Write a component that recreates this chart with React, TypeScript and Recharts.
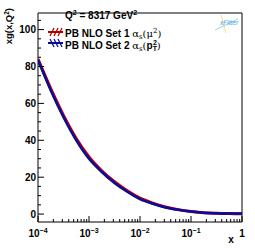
import { LineChart, Line, XAxis, YAxis, ReferenceArea } from 'recharts';

const xValues = [1e-4, 1.78e-4, 3.16e-4, 5.62e-4, 1e-3, 1.78e-3, 3.16e-3, 5.62e-3, 1e-2, 1.78e-2, 3.16e-2, 5.62e-2, 1e-1, 0.178, 0.316, 0.562, 1];
const set1 = [84, 68, 53.5, 41, 31, 23.5, 17.5, 12.6, 8.6, 5.9, 3.8, 2.4, 1.4, 0.75, 0.4, 0.25, 0.2];
const set2 = [83.5, 67, 52.5, 40, 30, 22.8, 16.9, 12.1, 8.1, 5.6, 3.6, 2.3, 1.35, 0.75, 0.45, 0.3, 0.25];

const xMajor = [1e-4, 1e-3, 1e-2, 1e-1, 1];
const xMajorLabels = ['-4', '-3', '-2', '-1', ''];
const xMinorMult = [2, 3, 4, 5, 6, 7, 8, 9];
const yTicks = [0, 5, 10, 15, 20, 25, 30, 35, 40, 45, 50, 55, 60, 65, 70, 75, 80, 85, 90, 95, 100, 105];
const yLabelled = [0, 20, 40, 60, 80, 100];

const data = xValues.map((x, i) => ({ x, set1: set1[i], set2: set2[i] }));
const xTicks = [...xMajor, ...xMajor.slice(0, 4).flatMap((d) => xMinorMult.map((m) => m * d))];

const RED = '#b00000';
const BLUE = '#0a0a9c';
const FONT = '"Liberation Sans", Arial, sans-serif';

function XTick({ x, y, payload }: any) {
  const idx = xMajor.indexOf(payload.value);
  const major = idx >= 0;
  return (
    <g>
      <line x1={x} x2={x} y1={y} y2={y - (major ? 6 : 3)} stroke="#000" />
      {major && (
        <text x={x} y={y + 15} textAnchor="middle" fontSize={10} fontWeight="bold" fontFamily={FONT} fill="#000">
          {xMajorLabels[idx] ? '10' : '1'}
          {xMajorLabels[idx] && (
            <tspan fontSize={7} dy={-4}>
              {xMajorLabels[idx].replace('-', '\u2212')}
            </tspan>
          )}
        </text>
      )}
    </g>
  );
}

function YTick({ x, y, payload }: any) {
  const major = yLabelled.includes(payload.value);
  return (
    <g>
      <line x1={x} x2={x + (major ? 6 : 3)} y1={y} y2={y} stroke="#000" />
      {major && (
        <text x={x - 2} y={y + 3.5} textAnchor="end" fontSize={10} fontWeight="bold" fontFamily={FONT} fill="#000">
          {payload.value}
        </text>
      )}
    </g>
  );
}

function Hatch({ color, dir }: { color: string; dir: 1 | -1 }) {
  const xs = [2, 6, 10];
  return (
    <svg width={15} height={10} style={{ position: 'absolute', left: 0, top: 0 }}>
      <line x1={0} x2={15} y1={5} y2={5} stroke={color} strokeWidth={2} />
      {xs.map((h) => (
        <line key={h} x1={h} x2={h + 4} y1={dir > 0 ? 9 : 1} y2={dir > 0 ? 1 : 9} stroke={color} strokeWidth={1.2} />
      ))}
    </svg>
  );
}

export default function App() {
  return (
    <div style={{ position: 'absolute', left: 0, top: 0, width: 255, height: 248, background: '#fff', fontFamily: FONT }}>
      <LineChart width={255} height={248} data={data} margin={{ top: 13, right: 13, bottom: 0, left: 0 }}>
        <XAxis
          dataKey="x"
          type="number"
          scale="log"
          domain={[1e-4, 1]}
          ticks={xTicks}
          interval={0}
          height={26}
          axisLine={false}
          tickLine={false}
          tickSize={0}
          tickMargin={0}
          tick={<XTick />}
          allowDataOverflow
          label={() => (
            <text x={231} y={243} textAnchor="middle" fontSize={10} fontWeight="bold" fontFamily={FONT} fill="#000">
              x
            </text>
          )}
        />
        <YAxis
          type="number"
          domain={[-4.3, 109]}
          ticks={yTicks}
          interval={0}
          width={38}
          axisLine={false}
          tickLine={false}
          tickSize={0}
          tickMargin={0}
          tick={<YTick />}
          allowDataOverflow
          label={() => (
            <text
              x={12}
              y={8}
              transform="rotate(-90, 12, 8)"
              textAnchor="end"
              fontSize={9.5}
              fontWeight="bold"
              fontFamily={FONT}
              fill="#000"
            >
              xg(x,Q<tspan fontSize={6.5} dy={-3.5}>2</tspan>
              <tspan dy={3.5}>)</tspan>
            </text>
          )}
        />
        <ReferenceArea x1={1e-4} x2={1} y1={-4.3} y2={109} fill="none" stroke="#000" strokeWidth={1} />
        <Line type="monotone" dataKey="set1" stroke={RED} strokeWidth={3} dot={false} isAnimationActive={false} />
        <Line type="monotone" dataKey="set2" stroke={BLUE} strokeWidth={2.5} dot={false} isAnimationActive={false} />
      </LineChart>

      <div style={{ position: 'absolute', left: 65, top: 7, fontSize: 10, fontWeight: 'bold', lineHeight: '12px', whiteSpace: 'nowrap' }}>
        Q<sup style={{ fontSize: 7, verticalAlign: 4 }}>2</sup> = 8317 GeV<sup style={{ fontSize: 7, verticalAlign: 4 }}>2</sup>
      </div>
      <div style={{ position: 'absolute', left: 48, top: 27, width: 15, height: 10 }}>
        <Hatch color={RED} dir={1} />
      </div>
      <div style={{ position: 'absolute', left: 65, top: 25, fontSize: 10, fontWeight: 'bold', lineHeight: '12px', whiteSpace: 'nowrap' }}>
        PB NLO Set 1{' '}
        <span style={{ fontWeight: 'normal', fontFamily: '"DejaVu Serif", serif' }}>
          α<sub style={{ fontSize: 7, verticalAlign: -2 }}>s</sub>(μ<sup style={{ fontSize: 7, verticalAlign: 4 }}>2</sup>)
        </span>
      </div>
      <div style={{ position: 'absolute', left: 48, top: 38, width: 15, height: 10 }}>
        <Hatch color={BLUE} dir={-1} />
      </div>
      <div style={{ position: 'absolute', left: 65, top: 37, fontSize: 10, fontWeight: 'bold', lineHeight: '12px', whiteSpace: 'nowrap' }}>
        PB NLO Set 2{' '}
        <span style={{ fontWeight: 'normal', fontFamily: '"DejaVu Serif", serif' }}>
          α<sub style={{ fontSize: 7, verticalAlign: -2 }}>s</sub>(
        </span>
        p<sub style={{ fontSize: 7, verticalAlign: -2 }}>T</sub>
        <sup style={{ fontSize: 7, verticalAlign: 4, marginLeft: -4 }}>2</sup>
        <span style={{ fontWeight: 'normal', fontFamily: '"DejaVu Serif", serif' }}>)</span>
      </div>

      <svg width={30} height={22} style={{ position: 'absolute', left: 212, top: 13 }}>
        <line x1={9} x2={14} y1={2} y2={20} stroke="#f3e08a" strokeWidth={1} />
        <line x1={3} x2={26} y1={17} y2={6} stroke="#9dd3ee" strokeWidth={1} />
        <text x={8} y={12} fontSize={6.5} fontStyle="italic" fontFamily={FONT} fill="#3ba6df">
          xFitter
        </text>
      </svg>
    </div>
  );
}
